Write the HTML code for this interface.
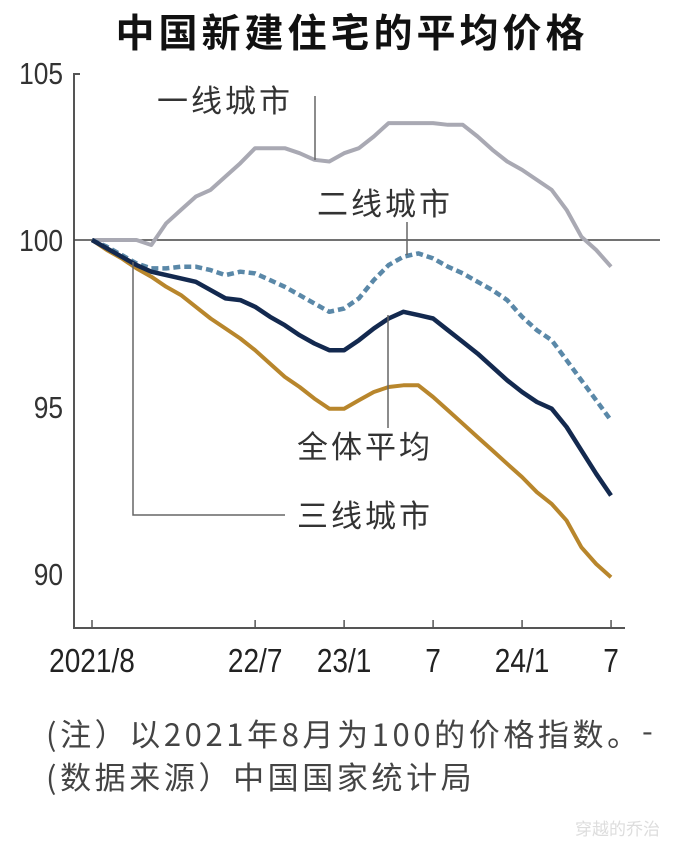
<!DOCTYPE html>
<html><head><meta charset="utf-8">
<style>
html,body{margin:0;padding:0;background:#fff;}
body{width:680px;height:846px;overflow:hidden;position:relative;font-family:"Liberation Sans","Noto Sans CJK SC",sans-serif;}
svg{position:absolute;left:0;top:0;}
</style></head>
<body>
<svg id="chart" width="680" height="846" viewBox="0 0 680 846">
<text x="352" y="47" text-anchor="middle" font-size="39" letter-spacing="4" font-weight="bold" fill="#111" font-family="'Noto Sans CJK SC',sans-serif">中国新建住宅的平均价格</text>
<g id="axes"></g>
<g id="series"></g>
<g id="labels" font-family="'Noto Sans CJK SC',sans-serif" font-size="31" letter-spacing="3" fill="#333">
<text x="157" y="112">一线城市</text>
<line x1="315" y1="96" x2="315" y2="160" stroke="#666" stroke-width="1.5"/>
<text x="317" y="215">二线城市</text>
<line x1="407" y1="222" x2="407" y2="255" stroke="#666" stroke-width="1.5"/>
<text x="297" y="458">全体平均</text>
<line x1="388" y1="315" x2="388" y2="428" stroke="#666" stroke-width="1.5"/>
<text x="297" y="527">三线城市</text>
<polyline points="133,262 133,515 285,515" fill="none" stroke="#666" stroke-width="1.5"/>
</g>
<g font-family="'Noto Sans CJK SC',sans-serif" font-size="31" letter-spacing="3.6" fill="#444">
<text x="46" y="746">(注）以2021年8月为100的价格指数。</text>
<text x="46" y="789">(数据来源）中国国家统计局</text>
<text x="642" y="742">-</text>
</g>
<text x="575" y="835" font-size="17" fill="#ddd" font-family="'Noto Sans CJK SC',sans-serif">穿越的乔治</text>
</svg>
<script>
const months = [];
for (let i = 0; i < 36; i++) months.push(i);
const tier1 = [100,100,100,100,99.85,100.5,100.9,101.3,101.5,101.9,102.3,102.75,102.75,102.75,102.6,102.4,102.35,102.6,102.75,103.1,103.5,103.5,103.5,103.5,103.45,103.45,103.1,102.7,102.35,102.1,101.8,101.5,100.9,100.1,99.7,99.2];
const tier2 = [100,99.8,99.55,99.3,99.15,99.15,99.2,99.2,99.1,98.95,99.05,99.0,98.8,98.6,98.35,98.1,97.85,97.95,98.25,98.8,99.25,99.5,99.6,99.45,99.2,99.0,98.75,98.5,98.2,97.7,97.3,97.0,96.4,95.8,95.2,94.6];
const average = [100,99.75,99.5,99.25,99.05,98.95,98.85,98.75,98.5,98.25,98.2,98.0,97.7,97.45,97.15,96.9,96.7,96.7,97.0,97.35,97.65,97.85,97.75,97.65,97.3,96.95,96.6,96.2,95.8,95.45,95.15,94.95,94.4,93.7,93.0,92.35];
const tier3 = [100,99.7,99.45,99.15,98.9,98.6,98.35,98.0,97.65,97.35,97.05,96.7,96.3,95.9,95.6,95.25,94.95,94.95,95.2,95.45,95.6,95.65,95.65,95.3,94.9,94.5,94.1,93.7,93.3,92.9,92.45,92.1,91.6,90.8,90.3,89.9];
const yTicks = [105,100,95,90];
const xTickMonths = [0,11,17,23,29,35];
const xTickLabels = ["2021/8","22/7","23/1","7","24/1","7"];

const NS = "http://www.w3.org/2000/svg";
const xs = m => 92 + m * 14.83;
const ys = v => 240 - (v - 100) * 33.4;
function mk(tag, attrs, parent) {
  const e = document.createElementNS(NS, tag);
  for (const k in attrs) e.setAttribute(k, attrs[k]);
  parent.appendChild(e);
  return e;
}
const axes = document.getElementById("axes");
const yAxis = mk("path", {d: "M80,74 L74,74 L74,628 L625,628", fill: "none", stroke: "#555", "stroke-width": 2}, axes);


const base = mk("line", {x1: 74, x2: 660, y1: ys(100), y2: ys(100), stroke: "#444", "stroke-width": 1.5}, axes);


yTicks.forEach(t => {
  const tx = mk("text", {x: 0, y: 0, "font-size": 31, fill: "#333", "text-anchor": "end",
    transform: `translate(63,${ys(t) + 11}) scale(0.85,1)`}, axes);
  tx.textContent = t;
  
  
});
xTickMonths.forEach((m, i) => {
  const tk = mk("line", {x1: xs(m), x2: xs(m), y1: 620, y2: 628, stroke: "#555", "stroke-width": 1.5}, axes);
  
  
  const tx = mk("text", {x: 0, y: 0, "font-size": 33, fill: "#222", "text-anchor": "middle",
    transform: `translate(${xs(m)},${672}) scale(0.85,1)`}, axes);
  tx.textContent = xTickLabels[i];
  
  
});
const series = document.getElementById("series");
function line(data, color, width, dash, name) {
  const pts = data.map((v, i) => xs(months[i]).toFixed(1) + "," + ys(v).toFixed(1)).join(" ");
  const p = mk("polyline", {points: pts, fill: "none", stroke: color, "stroke-width": width,
    "stroke-linejoin": "round"}, series);
  if (dash) p.setAttribute("stroke-dasharray", dash);
  
  
}
line(tier1, "#a9a9b3", 4, null, "tier1-line");
line(tier3, "#b8862c", 4, null, "tier3-line");
line(tier2, "#5a88a8", 4.5, "7,4", "tier2-line");
line(average, "#13294f", 4.5, null, "average-line");
</script>
</body></html>
